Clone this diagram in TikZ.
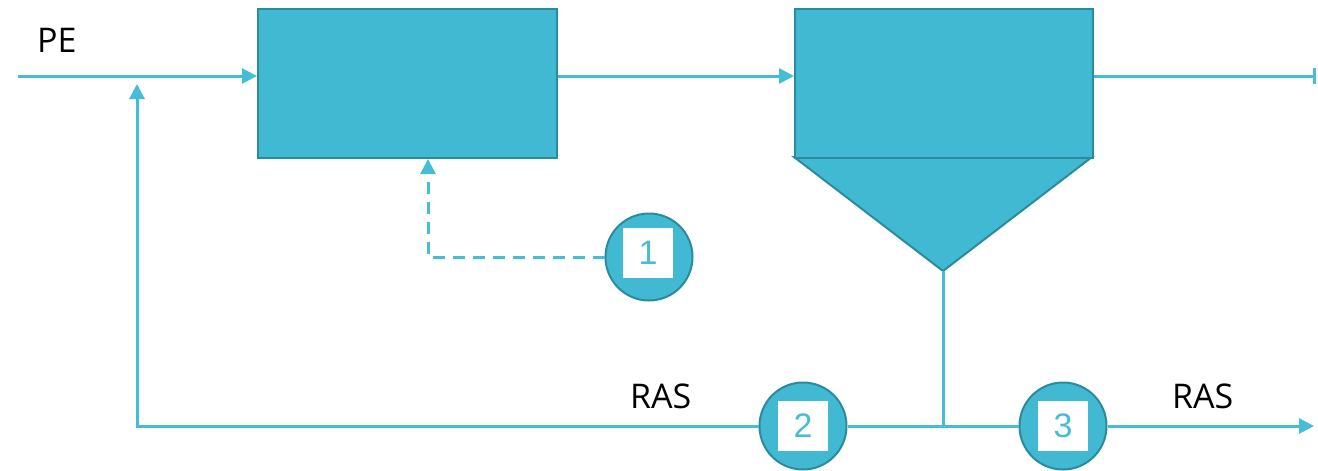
\documentclass[tikz,border=0pt]{standalone}
\usepackage{fontspec}
\setmainfont{Open Sans}
\newfontfamily\digitfont{Liberation Sans}
\usetikzlibrary{arrows.meta}
\definecolor{tankfill}{HTML}{41B9D3}
\definecolor{tankedge}{HTML}{2A8B9E}
\definecolor{flow}{HTML}{45BDD6}
\tikzset{
  flowline/.style={draw=flow, line width=3pt},
  tip/.style={-{Triangle[length=15pt,width=15pt]}},
  tank/.style={draw=tankedge, line width=2pt, fill=tankfill},
  badge/.style={circle, draw=tankedge, line width=2pt, fill=tankfill, minimum size=87pt, inner sep=0pt},
  numbox/.style={fill=white, minimum size=50pt, inner sep=0pt, text=flow, font=\digitfont\fontsize{34}{34}\selectfont},
  lbl/.style={font=\fontsize{34}{34}\selectfont, inner sep=0pt, anchor=base west}
}
\begin{document}
\begin{tikzpicture}[x=1pt,y=-1pt]
\useasboundingbox (0,0) rectangle (1318,471);
% tanks
\node[tank, minimum width=299pt, minimum height=149pt, inner sep=0pt, anchor=north west] (aer) at (257,8) {};
\draw[tank] (794,157) -- (1092,157) -- (943,271) -- cycle;
\node[tank, minimum width=298pt, minimum height=149pt, inner sep=0pt, anchor=north west] (clar) at (794,8) {};
\coordinate (cone) at (943,271);
% main flow
\coordinate (inlet) at (18,76);
\coordinate (outlet) at (1316,76);
\draw[flowline, tip] (inlet) -- (inlet -| aer.west);
\draw[flowline, tip] (inlet -| aer.east) -- (inlet -| clar.west);
\draw[flowline, -{Bar[width=16pt]}] (inlet -| clar.east) -- (outlet);
% badges
\node[badge] (b1) at (649,257) {};
\node[numbox] (n1) at (648,253) {1};
\node[badge] (b2) at (803,426) {};
\node[numbox] (n2) at (803,426) {2};
\node[badge] (b3) at (1063,426) {};
\node[numbox] (n3) at (1063,426) {3};
% RAS lines
\coordinate (split) at (943,426);
\coordinate (corner) at (137,426);
\coordinate (mix) at (137,84);
\coordinate (rasend) at (1314,426);
\coordinate (dcorner) at (428,257);
\draw[flowline] (cone) -- (split);
\draw[flowline] (split) -- (b2.east);
\draw[flowline, tip] (b2.west) -- (corner) -- (mix);
\draw[flowline] (split) -- (b3.west);
\draw[flowline, tip] (b3.east) -- (rasend);
\draw[flowline, dashed, dash pattern=on 12pt off 8pt, tip] (b1.west) -- (dcorner) -- (aer.south -| dcorner);
% labels
\node[lbl] (pe) at (37,52) {PE};
\node[lbl] (ras1) at (630,408) {RAS};
\node[lbl] (ras2) at (1172,408) {RAS};
\end{tikzpicture}
\end{document}
